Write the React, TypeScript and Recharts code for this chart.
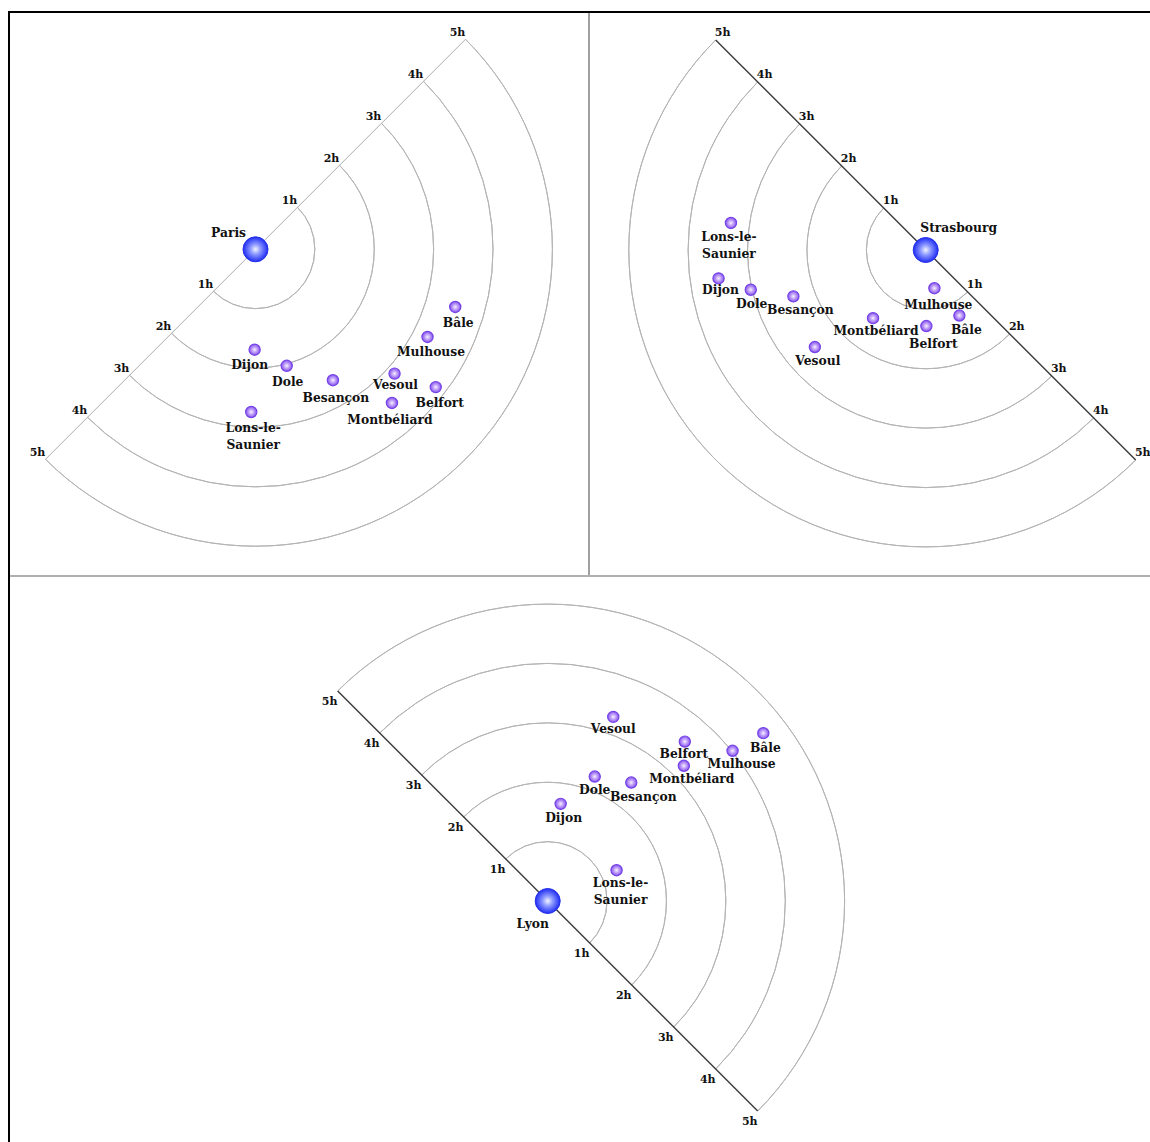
import React from "react";
import { PieChart, Pie, RadarChart, Radar, PolarAngleAxis, PolarRadiusAxis } from "recharts";

// travel time (hours) and direction (degrees, 0 = east, counter-clockwise) from each hub
const cities = ["Dijon", "Dole", "Besançon", "Lons-le-Saunier", "Vesoul", "Montbéliard", "Belfort", "Mulhouse", "Bâle"];
const hourRings = [1, 2, 3, 4, 5];

const parisHours = [1.69, 2.03, 2.56, 2.74, 3.14, 3.46, 3.82, 3.25, 3.5];
const parisAngles = [-90.5, -75.0, -59.4, -91.5, -41.8, -48.4, -37.4, -27.0, -16.1];

const strasbourgHours = [3.52, 3.02, 2.36, 3.31, 2.48, 1.45, 1.28, 0.66, 1.24];
const strasbourgAngles = [187.8, 192.8, 199.3, 172.1, 221.2, 232.3, 270.5, 282.8, 297.2];

const lyonHours = [1.65, 2.24, 2.44, 1.27, 3.29, 3.23, 3.54, 4.01, 4.6];
const lyonAngles = [82.4, 69.3, 54.8, 24.1, 70.4, 44.8, 49.3, 39.1, 37.9];

const MAX_HOURS = 5;
const OUTER = 297;
const FONT = '"DejaVu Serif", Georgia, serif';
const TEXT = "#111";

type Shift = Record<string, [number, number]>;

const panels = [
  {
    hub: "Paris", hours: parisHours, angles: parisAngles,
    left: 10, top: 13, width: 578, height: 562, cx: 245.5, cy: 236.3, start: -135, end: 45,
    axisColor: "#ababab", axisWidth: 1, tickDx: -8, tickDy: -3, hubLabel: [-27, -16],
    shift: {
      Dijon: [-5, 15], Dole: [1, 16], "Besançon": [3, 18], "Lons-le-Saunier": [2, 16], Vesoul: [1, 11],
      "Montbéliard": [-2, 17], Belfort: [4, 16], Mulhouse: [3.5, 15], "Bâle": [3, 16],
    } as Shift,
  },
  {
    hub: "Strasbourg", hours: strasbourgHours, angles: strasbourgAngles,
    left: 590, top: 13, width: 560, height: 562, cx: 335.7, cy: 237, start: 135, end: 315,
    axisColor: "#3a3a3a", axisWidth: 1.4, tickDx: 7, tickDy: -4, hubLabel: [33, -22],
    shift: {
      Dijon: [2, 12], Dole: [1, 14], "Besançon": [7, 14], "Lons-le-Saunier": [-2, 14], Vesoul: [3, 14],
      "Montbéliard": [3, 13], Belfort: [7, 18], Mulhouse: [4, 17], "Bâle": [7, 14],
    } as Shift,
  },
  {
    hub: "Lyon", hours: lyonHours, angles: lyonAngles,
    left: 10, top: 577, width: 1140, height: 565, cx: 537.7, cy: 324, start: -45, end: 135,
    axisColor: "#3a3a3a", axisWidth: 1.4, tickDx: -8, tickDy: 14, hubLabel: [-15, 23],
    shift: {
      Dijon: [3, 14], Dole: [0, 13], "Besançon": [12, 14], "Lons-le-Saunier": [4, 13], Vesoul: [0, 12],
      "Montbéliard": [8, 13], Belfort: [-1, 12], Mulhouse: [9, 13], "Bâle": [2, 15],
    } as Shift,
  },
];

type Panel = (typeof panels)[number];

const labelStyle = { fontFamily: FONT, fontSize: 12.3, fontWeight: 700, fill: TEXT } as const;

function makeDot(p: Panel) {
  return (props: any) => {
    const { cx, cy } = props;
    const d = props.payload?.payload ?? props.payload;
    if (cx == null || cy == null || !d) return <g key={props.key} />;
    const city: string = d.city;
    if (d.hours === 0) {
      return (
        <g key={`hub-${city}`}>
          <circle cx={cx} cy={cy} r={12.5} fill="url(#hubBall)" stroke="#2430e6" strokeWidth={1} />
          <text x={cx + p.hubLabel[0]} y={cy + p.hubLabel[1] + 4} textAnchor="middle" style={labelStyle}>
            {city}
          </text>
        </g>
      );
    }
    const [dx, dy] = p.shift[city] ?? [2, 14];
    const lines = city === "Lons-le-Saunier" ? ["Lons-le-", "Saunier"] : [city];
    return (
      <g key={`city-${city}`}>
        <circle cx={cx} cy={cy} r={5.6} fill="url(#cityBall)" stroke="#7443e6" strokeWidth={1.2} />
        <text x={cx + dx} y={cy + dy + 4} textAnchor="middle" style={labelStyle}>
          {lines.map((l, i) => (
            <tspan key={l} x={cx + dx} dy={i === 0 ? 0 : 17}>
              {l}
            </tspan>
          ))}
        </text>
      </g>
    );
  };
}

function makeTick(p: Panel) {
  return (props: any) => {
    const v = props.payload?.value;
    if (!v) return <g />;
    return (
      <text
        x={props.x + p.tickDx}
        y={props.y + p.tickDy}
        textAnchor="middle"
        style={{ fontFamily: FONT, fontSize: 11, fontWeight: 700, fill: TEXT }}
      >
        {`${v}h`}
      </text>
    );
  };
}

function HourFan({ p }: { p: Panel }) {
  const rows = [
    { city: p.hub, angle: p.start, hours: 0 },
    ...cities.map((city, i) => ({ city, angle: p.angles[i], hours: p.hours[i] })),
  ];
  const margin = { top: 0, right: 0, bottom: 0, left: 0 };
  return (
    <div style={{ position: "absolute", left: p.left, top: p.top, width: p.width, height: p.height }}>
      <div style={{ position: "absolute", left: 0, top: 0 }}>
        <PieChart width={p.width} height={p.height} margin={margin}>
          {hourRings.map((h) => (
            <Pie
              key={h}
              data={[{ ring: h, span: 1 }]}
              dataKey="span"
              cx={p.cx}
              cy={p.cy}
              innerRadius={(h / MAX_HOURS) * OUTER}
              outerRadius={(h / MAX_HOURS) * OUTER}
              startAngle={p.start}
              endAngle={p.end}
              fill="none"
              stroke="#b4b4b4"
              strokeWidth={1}
              isAnimationActive={false}
            />
          ))}
        </PieChart>
      </div>
      <div style={{ position: "absolute", left: 0, top: 0 }}>
        <RadarChart
          width={p.width}
          height={p.height}
          data={rows}
          cx={p.cx}
          cy={p.cy}
          innerRadius={0}
          outerRadius={OUTER}
          startAngle={p.start}
          endAngle={p.end}
          margin={margin}
        >
          <PolarAngleAxis
            dataKey="angle"
            type="number"
            scale="linear"
            domain={[p.start, p.end]}
            allowDataOverflow
            tick={false}
            axisLine={false}
            tickLine={false}
          />
          <PolarRadiusAxis
            angle={p.start}
            type="number"
            domain={[0, MAX_HOURS]}
            allowDataOverflow
            tickCount={6}
            axisLine={{ stroke: p.axisColor, strokeWidth: p.axisWidth }}
            tickLine={false}
            tick={makeTick(p)}
          />
          <PolarRadiusAxis
            radiusAxisId="far"
            angle={p.end}
            type="number"
            domain={[0, MAX_HOURS]}
            allowDataOverflow
            tickCount={6}
            axisLine={{ stroke: p.axisColor, strokeWidth: p.axisWidth }}
            tickLine={false}
            tick={makeTick(p)}
          />
          <Radar
            dataKey="hours"
            stroke="none"
            fill="none"
            fillOpacity={0}
            dot={makeDot(p)}
            activeDot={false}
            isAnimationActive={false}
          />
        </RadarChart>
      </div>
    </div>
  );
}

export default function App() {
  return (
    <div style={{ position: "absolute", left: 0, top: 0, width: 1150, height: 1142, background: "#fff", overflow: "hidden" }}>
      <svg width={0} height={0} style={{ position: "absolute" }}>
        <defs>
          <radialGradient id="cityBall" cx="50%" cy="50%" r="50%">
            <stop offset="0%" stopColor="#f8f2ff" />
            <stop offset="40%" stopColor="#c9acfa" />
            <stop offset="100%" stopColor="#8550ee" />
          </radialGradient>
          <radialGradient id="hubBall" cx="50%" cy="50%" r="50%">
            <stop offset="0%" stopColor="#f2f4ff" />
            <stop offset="40%" stopColor="#8e9bff" />
            <stop offset="100%" stopColor="#1f2cf4" />
          </radialGradient>
        </defs>
      </svg>
      <div style={{ position: "absolute", left: 8, top: 11, width: 1142, height: 2, background: "#000" }} />
      <div style={{ position: "absolute", left: 8, top: 11, width: 2, height: 1131, background: "#000" }} />
      <div style={{ position: "absolute", left: 588, top: 13, width: 2, height: 563, background: "#a0a0a0" }} />
      <div style={{ position: "absolute", left: 10, top: 575, width: 1140, height: 2, background: "#b0b0b0" }} />
      {panels.map((p) => (
        <HourFan key={p.hub} p={p} />
      ))}
    </div>
  );
}
